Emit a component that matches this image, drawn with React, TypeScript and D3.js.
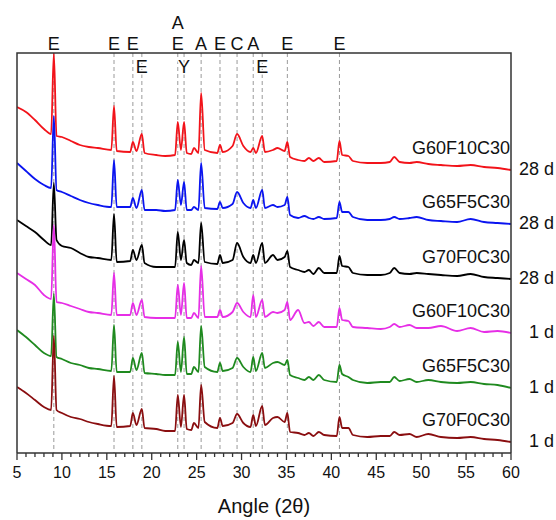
import React from "react";
import * as d3 from "d3";

// 2-theta grid shared by all patterns
const angles = [5, 6, 7, 8, 8.8, 9.1, 9.4, 10, 11, 12, 13, 14, 15.5, 15.8, 16.1, 17.6, 17.9, 18.3, 18.9, 19.2,
	20.5, 21.5, 22.6, 22.9, 23.25, 23.6, 23.9, 24.4, 24.7, 25.2, 25.5, 25.9, 27.3, 27.6, 27.9, 29.0, 29.5, 30.2,
	31.0, 31.3, 31.6, 32.3, 32.6, 33.5, 34.0, 34.8, 35.1, 35.4, 36.3, 37.0, 37.5, 38.0, 38.6, 39.2, 40.6, 40.9,
	41.2, 41.9, 42.4, 44.0, 45.5, 46.5, 47.0, 47.6, 48.7, 49.5, 50.8, 52.2, 54.0, 55.5, 57.0, 58.5, 60];

// intensities (a.u.)
const g60f10c30_28d = [73, 68, 60, 51, 46, 127, 44, 43, 39, 35, 33, 32, 30, 74, 29, 28, 38, 29, 46, 27, 25, 24, 25, 58, 30,
	58, 27, 26, 32, 27, 87, 30, 27, 35, 28, 34, 46, 34, 28, 32, 27, 44, 28, 30, 32, 29, 38, 23, 20, 19, 22, 19, 22, 18, 19,
	39, 25, 24, 19, 17, 17, 18, 23, 18, 17, 18, 16, 15, 14, 15, 13, 12, 10];
const g65f5c30_28d = [71, 63, 55, 49, 46, 118, 44, 42, 38, 34, 31, 29, 27, 74, 27, 27, 36, 26, 44, 24, 24, 23, 24, 54, 29,
	52, 24, 24, 27, 24, 71, 26, 25, 32, 26, 30, 42, 31, 26, 34, 26, 44, 26, 29, 27, 29, 37, 19, 16, 18, 16, 15, 17, 15, 16,
	32, 22, 22, 17, 14, 14, 15, 17, 15, 16, 17, 14, 13, 12, 15, 12, 11, 10];
const g70f0c30_28d = [69, 63, 57, 49, 44, 106, 49, 43, 41, 36, 32, 31, 29, 75, 27, 28, 39, 29, 44, 26, 22, 22, 22, 57, 29,
	49, 26, 24, 29, 26, 66, 27, 25, 34, 26, 29, 46, 32, 26, 34, 26, 46, 26, 34, 29, 32, 38, 22, 19, 17, 19, 15, 21, 16, 16,
	33, 23, 22, 16, 14, 14, 16, 21, 16, 15, 16, 15, 14, 13, 15, 12, 11, 10];
const g60f10c30_1d = [70, 64, 58, 48, 44, 118, 41, 40, 37, 34, 31, 30, 28, 70, 28, 28, 40, 28, 43, 26, 25, 25, 25, 58, 28,
	60, 25, 25, 30, 25, 77, 26, 26, 33, 26, 31, 40, 31, 26, 48, 26, 43, 26, 31, 30, 33, 41, 23, 33, 20, 21, 17, 21, 16, 16,
	35, 23, 22, 16, 15, 14, 16, 19, 16, 18, 15, 15, 17, 12, 15, 11, 12, 10];
const g65f5c30_1d = [68, 61, 53, 45, 42, 104, 41, 39, 35, 33, 30, 29, 27, 73, 26, 26, 40, 28, 45, 25, 24, 23, 23, 56, 26,
	61, 24, 24, 31, 26, 72, 31, 26, 35, 27, 30, 40, 31, 26, 41, 27, 45, 30, 35, 36, 33, 38, 23, 20, 18, 21, 18, 23, 18, 16,
	33, 24, 21, 18, 15, 16, 16, 21, 17, 19, 16, 18, 16, 15, 16, 14, 13, 10];
const g70f0c30_1d = [65, 59, 52, 45, 42, 116, 42, 39, 35, 33, 30, 28, 26, 76, 25, 26, 39, 27, 43, 24, 23, 21, 21, 57, 25,
	57, 23, 22, 29, 24, 67, 30, 24, 34, 26, 29, 38, 29, 25, 37, 26, 46, 27, 34, 35, 30, 39, 20, 19, 17, 19, 16, 20, 17, 16,
	35, 24, 24, 17, 15, 16, 16, 20, 17, 18, 15, 18, 15, 14, 15, 13, 12, 10];

const sampleNames = ["G60F10C30", "G65F5C30", "G70F0C30", "G60F10C30", "G65F5C30", "G70F0C30"];
const ages = ["28 d", "28 d", "28 d", "1 d", "1 d", "1 d"];
const patterns = [g60f10c30_28d, g65f5c30_28d, g70f0c30_28d, g60f10c30_1d, g65f5c30_1d, g70f0c30_1d];

// phase markers
const markerAngles = [9.1, 15.8, 17.9, 18.9, 22.9, 23.6, 25.5, 27.6, 29.5, 31.3, 32.3, 35.1, 40.9];
const markerTop = ["E", "E", "E", "", "E", "", "A", "E", "C", "A", "", "E", "E"];
const markerAbove = ["", "", "", "", "A", "", "", "", "", "", "", "", ""];
const markerBelow = ["", "", "", "E", "", "Y", "", "", "", "", "E", "", ""];

const xTicks = d3.range(5, 61, 5);
const xMinor = d3.range(5, 61, 1);

// layout / style
const colors = ["#f2131a", "#0a14f0", "#000000", "#e62ee6", "#1f8a1f", "#8a0e10"];
const offsets = [273, 219, 164, 110, 55, 1];
const W = 556, H = 520;
const left = 17, right = 511, top = 53, bottom = 453;
const font = "'Liberation Sans', Arial, sans-serif";

export default function App() {
	const x = d3.scaleLinear().domain([5, 60]).range([left, right]);
	const y = d3.scaleLinear().domain([0, 400]).range([bottom, top]);
	const order = [0, 1, 2, 3, 4, 5];

	return (
		<svg width={W} height={H} style={{ position: "absolute", left: 0, top: 0, fontFamily: font }}>
			<rect width={W} height={H} fill="#fff"/>
			<defs>
				<clipPath id="plot">
					<rect x={left} y={top} width={right - left} height={bottom - top}/>
				</clipPath>
			</defs>
			{markerAngles.map((a, i) => (
				<line key={"m" + i} x1={x(a)} x2={x(a)} y1={top} y2={bottom}
					stroke="#9a9a9a" strokeWidth={1} strokeDasharray="4,3"/>
			))}
			<g clipPath="url(#plot)">
				{order.map(i => {
					const line = d3.line<number>()
						.x((_, k) => x(angles[k]))
						.y(v => y(v + offsets[i]))
						.curve(d3.curveMonotoneX);
					return (
						<path key={"s" + i} d={line(patterns[i]) || ""} fill="none"
							stroke={colors[i]} strokeWidth={1.8} strokeLinejoin="round"/>
					);
				})}
			</g>
			{order.map(i => (
				<g key={"l" + i} fill="#111" fontSize={18}>
					<text x={right - 1} y={y(offsets[i] + 10) - 16} textAnchor="end">{sampleNames[i]}</text>
					<text x={554} y={y(offsets[i] + 10) + 5} textAnchor="end">{ages[i]}</text>
				</g>
			))}
			{markerAngles.map((a, i) => (
				<g key={"t" + i} fill="#111" fontSize={18} textAnchor="middle">
					{markerTop[i] && <text x={x(a)} y={50}>{markerTop[i]}</text>}
					{markerAbove[i] && <text x={x(a)} y={29}>{markerAbove[i]}</text>}
					{markerBelow[i] && <text x={x(a)} y={73} style={{ paintOrder: "stroke" }} stroke="#fff" strokeWidth={3}>{markerBelow[i]}</text>}
				</g>
			))}
			<path d={`M${left},${bottom}V${top}H${right}V${bottom}`} fill="none" stroke="#333" strokeWidth={1.5}/>
			<line x1={left} x2={right} y1={bottom} y2={bottom} stroke="#333" strokeWidth={1.5}/>
			{xMinor.map(t => (
				<line key={"n" + t} x1={x(t)} x2={x(t)} y1={bottom} y2={bottom + (t % 5 === 0 ? 7 : 4)}
					stroke="#333" strokeWidth={1.3}/>
			))}
			{xTicks.map(t => (
				<text key={"x" + t} x={x(t)} y={478} textAnchor="middle" fontSize={16} fill="#111">{t}</text>
			))}
			<text x={(left + right) / 2} y={513} textAnchor="middle" fontSize={20} fill="#111">Angle (2θ)</text>
		</svg>
	);
}
